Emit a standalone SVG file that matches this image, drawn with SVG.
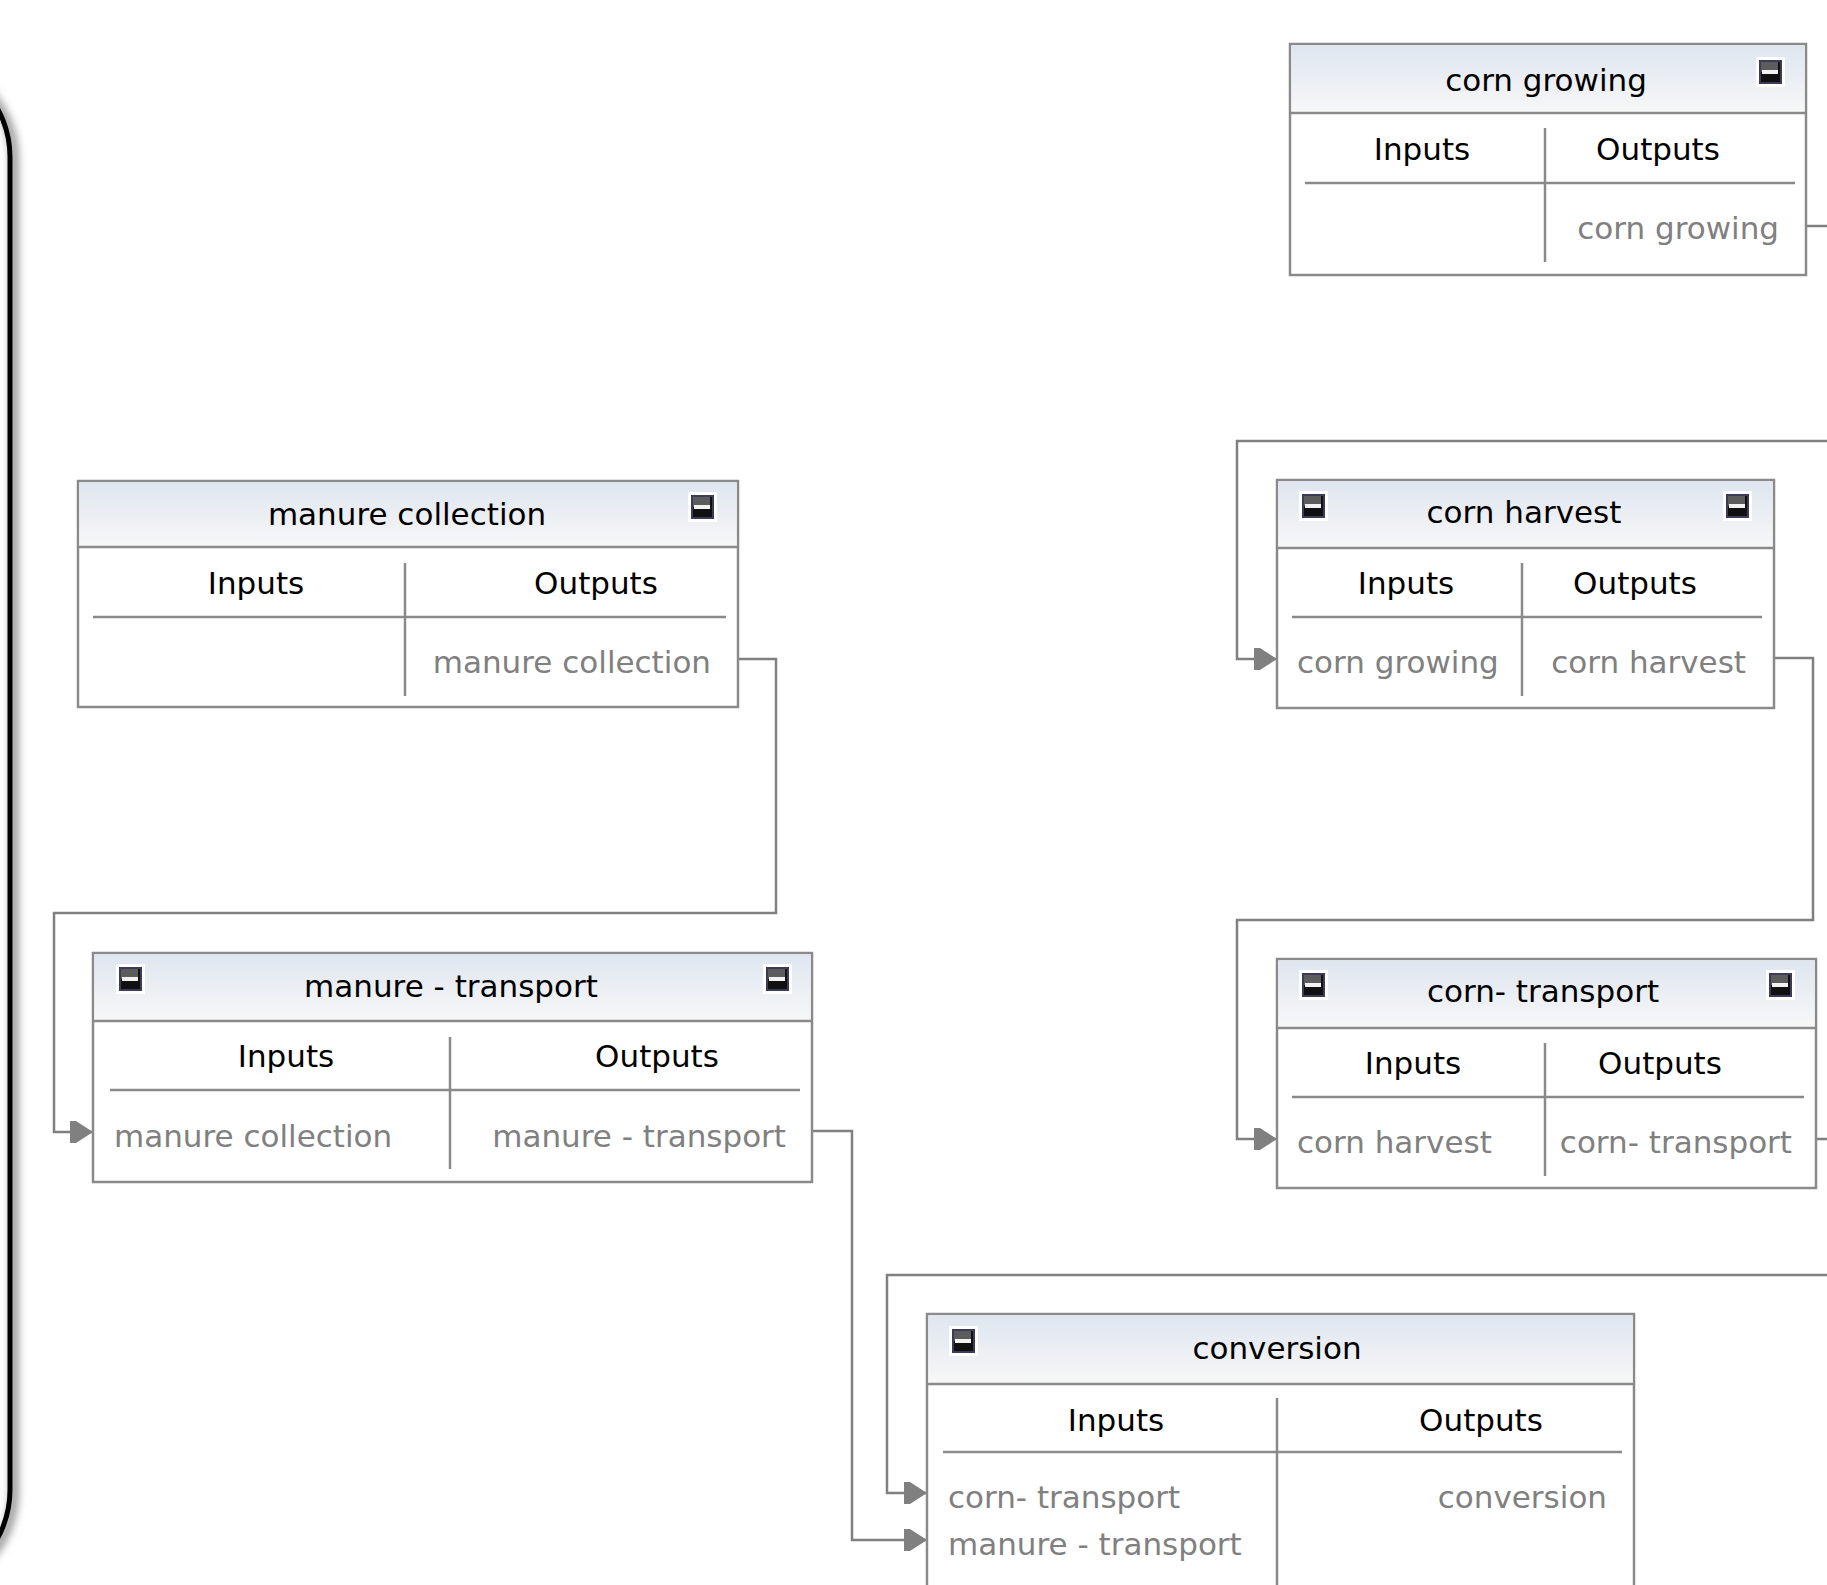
<svg xmlns="http://www.w3.org/2000/svg" width="1827" height="1585" viewBox="0 0 1827 1585">
<defs>
  <linearGradient id="hdr" x1="0" y1="0" x2="0" y2="1">
    <stop offset="0" stop-color="#dfe6f0"/>
    <stop offset="1" stop-color="#f7f7f7"/>
  </linearGradient>
  <filter id="blur" x="-50%" y="-10%" width="200%" height="120%">
    <feGaussianBlur stdDeviation="4"/>
  </filter>
  <marker id="arr" markerUnits="userSpaceOnUse" markerWidth="26" markerHeight="26" viewBox="-25 -13 26 26" refX="0" refY="0" orient="auto">
    <path d="M-23,-11 H-17 L0,0 L-17,11 H-23 Z" fill="#808080"/>
  </marker>
  <g id="icon">
    <rect x="-3" y="-3" width="29" height="30" fill="#ffffff"/>
    <rect x="0" y="0" width="23" height="24" fill="#3c3c58"/>
    <rect x="2" y="2" width="19" height="10" fill="#5c5c5c"/>
    <rect x="2" y="12" width="19" height="10" fill="#101010"/>
    <rect x="19" y="2" width="2" height="20" fill="#101010"/>
    <rect x="3" y="10" width="16" height="4" fill="#f2f2f2"/>
  </g>
</defs>
<style>
  .box { fill: #ffffff; stroke: #8a8a8a; stroke-width: 2.5; }
  .hdr { fill: url(#hdr); stroke: none; }
  .ln { stroke: #8a8a8a; stroke-width: 2.5; fill: none; }
  .t { font-family: "DejaVu Sans", "Liberation Sans", sans-serif; font-size: 31px; fill: #000000; }
  .g { font-family: "DejaVu Sans", "Liberation Sans", sans-serif; font-size: 31px; fill: #808080; }
  .m { text-anchor: middle; }
  .e { text-anchor: end; }
  .conn { fill: none; stroke: #808080; stroke-width: 2.5; }
</style>
<rect x="0" y="0" width="1827" height="1585" fill="#ffffff"/>

<g id="panel">
  <rect x="-190" y="59" width="204" height="1533" rx="100" fill="none" stroke="#8a8a8a" stroke-width="8" filter="url(#blur)"/>
  <rect x="-190" y="57" width="200" height="1533" rx="100" fill="none" stroke="#000000" stroke-width="5"/>
</g>

<g id="connectors">
  <path class="conn" d="M1806 226 H1845 V441 H1237 V659 H1277" marker-end="url(#arr)"/>
  <path class="conn" d="M1774 658 H1813 V920 H1237 V1139 H1277" marker-end="url(#arr)"/>
  <path class="conn" d="M1816 1139 H1845 V1275 H887 V1493 H927" marker-end="url(#arr)"/>
  <path class="conn" d="M738 659 H776 V913 H54 V1132 H93" marker-end="url(#arr)"/>
  <path class="conn" d="M812 1131 H852 V1540 H927" marker-end="url(#arr)"/>
</g>

<g id="corn-growing">
  <rect class="box" x="1290" y="44" width="516" height="231"/>
  <rect class="hdr" x="1291.5" y="45.5" width="513" height="67"/>
  <line class="ln" x1="1290" y1="113" x2="1806" y2="113"/>
  <line class="ln" x1="1305" y1="183" x2="1795" y2="183"/>
  <line class="ln" x1="1545" y1="128" x2="1545" y2="262"/>
  <use href="#icon" x="1759" y="60"/>
  <text class="t m" x="1546" y="91">corn growing</text>
  <text class="t m" x="1422" y="160">Inputs</text>
  <text class="t m" x="1658" y="160">Outputs</text>
  <text class="g e" x="1779" y="239">corn growing</text>
</g>

<g id="manure-collection">
  <rect class="box" x="78" y="481" width="660" height="226"/>
  <rect class="hdr" x="79.5" y="482.5" width="657" height="64"/>
  <line class="ln" x1="78" y1="547" x2="738" y2="547"/>
  <line class="ln" x1="93" y1="617" x2="726" y2="617"/>
  <line class="ln" x1="405" y1="563" x2="405" y2="696"/>
  <use href="#icon" x="691" y="495"/>
  <text class="t m" x="407" y="525">manure collection</text>
  <text class="t m" x="256" y="594">Inputs</text>
  <text class="t m" x="596" y="594">Outputs</text>
  <text class="g e" x="711" y="673">manure collection</text>
</g>

<g id="manure-transport">
  <rect class="box" x="93" y="953" width="719" height="229"/>
  <rect class="hdr" x="94.5" y="954.5" width="716" height="66"/>
  <line class="ln" x1="93" y1="1021" x2="812" y2="1021"/>
  <line class="ln" x1="110" y1="1090" x2="800" y2="1090"/>
  <line class="ln" x1="450" y1="1037" x2="450" y2="1169"/>
  <use href="#icon" x="119" y="967"/>
  <use href="#icon" x="766" y="967"/>
  <text class="t m" x="451" y="997">manure - transport</text>
  <text class="t m" x="286" y="1067">Inputs</text>
  <text class="t m" x="657" y="1067">Outputs</text>
  <text class="g" x="114" y="1147">manure collection</text>
  <text class="g e" x="786" y="1147">manure - transport</text>
</g>

<g id="corn-harvest">
  <rect class="box" x="1277" y="480" width="497" height="228"/>
  <rect class="hdr" x="1278.5" y="481.5" width="494" height="66"/>
  <line class="ln" x1="1277" y1="548" x2="1774" y2="548"/>
  <line class="ln" x1="1292" y1="617" x2="1762" y2="617"/>
  <line class="ln" x1="1522" y1="563" x2="1522" y2="696"/>
  <use href="#icon" x="1302" y="494"/>
  <use href="#icon" x="1726" y="494"/>
  <text class="t m" x="1524" y="523">corn harvest</text>
  <text class="t m" x="1406" y="594">Inputs</text>
  <text class="t m" x="1635" y="594">Outputs</text>
  <text class="g" x="1297" y="673">corn growing</text>
  <text class="g e" x="1746" y="673">corn harvest</text>
</g>

<g id="corn-transport">
  <rect class="box" x="1277" y="959" width="539" height="229"/>
  <rect class="hdr" x="1278.5" y="960.5" width="536" height="67"/>
  <line class="ln" x1="1277" y1="1028" x2="1816" y2="1028"/>
  <line class="ln" x1="1292" y1="1097" x2="1804" y2="1097"/>
  <line class="ln" x1="1545" y1="1043" x2="1545" y2="1176"/>
  <use href="#icon" x="1302" y="973"/>
  <use href="#icon" x="1769" y="973"/>
  <text class="t m" x="1543" y="1002">corn- transport</text>
  <text class="t m" x="1413" y="1074">Inputs</text>
  <text class="t m" x="1660" y="1074">Outputs</text>
  <text class="g" x="1297" y="1153">corn harvest</text>
  <text class="g e" x="1792" y="1153">corn- transport</text>
</g>

<g id="conversion">
  <rect class="box" x="927" y="1314" width="707" height="300"/>
  <rect class="hdr" x="928.5" y="1315.5" width="704" height="68"/>
  <line class="ln" x1="927" y1="1384" x2="1634" y2="1384"/>
  <line class="ln" x1="943" y1="1452" x2="1622" y2="1452"/>
  <line class="ln" x1="1277" y1="1398" x2="1277" y2="1600"/>
  <use href="#icon" x="952" y="1329"/>
  <text class="t m" x="1277" y="1359">conversion</text>
  <text class="t m" x="1116" y="1431">Inputs</text>
  <text class="t m" x="1481" y="1431">Outputs</text>
  <text class="g" x="948" y="1508">corn- transport</text>
  <text class="g" x="948" y="1555">manure - transport</text>
  <text class="g e" x="1607" y="1508">conversion</text>
</g>
</svg>
